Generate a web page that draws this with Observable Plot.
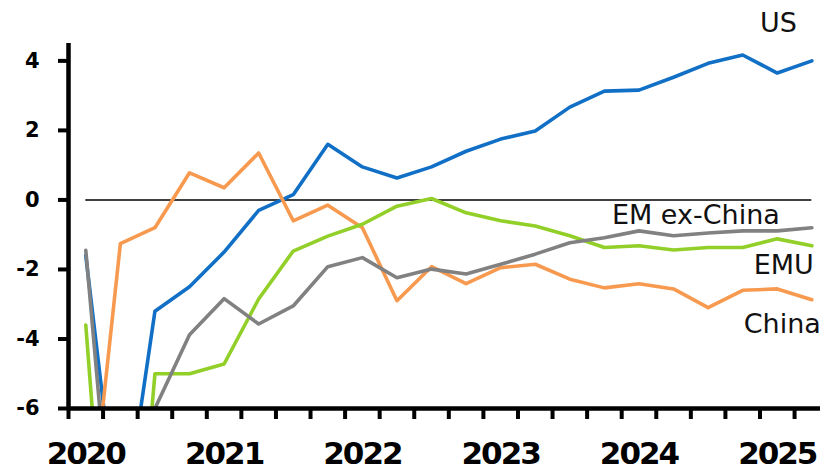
<!DOCTYPE html>
<html>
<head>
<meta charset="utf-8">
<script src="https://cdn.jsdelivr.net/npm/d3@7"></script>
<script src="https://cdn.jsdelivr.net/npm/@observablehq/plot@0.6"></script>
<style>
  html, body { margin: 0; padding: 0; background: #fff; }
  #chart svg { display: block; }
  #chart svg g[aria-label="x-axis tick label"] text { letter-spacing: -2px; }
</style>
</head>
<body>
<div id="chart"></div>
<script>
// Quarterly periods (2020Q1 .. 2025Q2)
const quarters = ["2020Q1","2020Q2","2020Q3","2020Q4","2021Q1","2021Q2","2021Q3","2021Q4",
                  "2022Q1","2022Q2","2022Q3","2022Q4","2023Q1","2023Q2","2023Q3","2023Q4",
                  "2024Q1","2024Q2","2024Q3","2024Q4","2025Q1","2025Q2"];
const years = [2020, 2021, 2022, 2023, 2024, 2025];
const yTicks = [-6, -4, -2, 0, 2, 4];

const seriesNames = ["US", "China", "EMU", "EM ex-China"];
const us    = [-1.6, -10.0, -3.2, -2.5, -1.5, -0.3, 0.15, 1.6, 0.95, 0.63, 0.95, 1.4, 1.75, 1.98, 2.67, 3.13, 3.16, 3.53, 3.93, 4.17, 3.65, 4.0];
const china = [-10.5, -1.26, -0.8, 0.78, 0.35, 1.35, -0.6, -0.15, -0.8, -2.9, -1.92, -2.41, -1.95, -1.85, -2.28, -2.53, -2.41, -2.56, -3.1, -2.6, -2.56, -2.87];
const emu   = [-3.6, -16.5, -5.0, -5.0, -4.72, -2.85, -1.47, -1.04, -0.7, -0.18, 0.04, -0.37, -0.6, -0.75, -1.03, -1.37, -1.32, -1.44, -1.37, -1.37, -1.12, -1.32];
const emx   = [-1.45, -12.7, -6.0, -3.88, -2.84, -3.57, -3.05, -1.92, -1.66, -2.24, -1.99, -2.13, -1.85, -1.56, -1.23, -1.09, -0.89, -1.03, -0.95, -0.89, -0.89, -0.8];
const colors = ["#1170c6", "#f79a50", "#92cf28", "#818181"];

const seriesValues = [us, china, emu, emx];
const n = quarters.length;
const rows = seriesNames.flatMap((name, s) =>
  seriesValues[s].map((v, i) => ({series: name, q: i + 0.5, value: v})));
const lastPoints = seriesNames.map((name, s) =>
  ({series: name, q: n - 0.5, value: seriesValues[s][n - 1]}));

// label placement relative to each series' last point (style only)
const labelStyle = {
  "US":          {dx: -15, dy: -29},
  "EM ex-China": {dx: -32, dy: -4},
  "EMU":         {dx: 2,   dy: 28},
  "China":       {dx: 9,   dy: 33}
};

const yearPos = years.map((y, k) => k * 4 + 0.5);

const chart = Plot.plot({
  width: 824,
  height: 470,
  marginLeft: 68,
  marginRight: 4,
  marginTop: 43,
  marginBottom: 62,
  x: {domain: [0, n - 0.25], axis: null},
  y: {domain: [-6, 4.5], axis: null},
  color: {domain: seriesNames, range: colors},
  style: {fontFamily: "DejaVu Sans, Verdana, sans-serif", background: "#fff", color: "#000"},
  marks: [
    Plot.ruleY([0], {x1: 0.5, x2: n - 0.5, stroke: "#000", strokeWidth: 1.6}),
    Plot.line(rows, {x: "q", y: "value", z: "series", stroke: "series", strokeWidth: 3.6, clip: true}),
    Plot.ruleX([0], {y1: -6, y2: 4.5, stroke: "#000", strokeWidth: 4.5}),
    Plot.ruleY([-6], {x1: 0, x2: n - 0.25, stroke: "#000", strokeWidth: 4.5}),
    Plot.axisY(yTicks, {label: null, tickSize: 10, tickPadding: 19, strokeWidth: 4, fontSize: 21,
                        fontWeight: "bold", tickFormat: d => String(d)}),
    Plot.axisX(d3.range(n), {label: null, tickSize: 11, strokeWidth: 4, tickFormat: () => ""}),
    Plot.axisX(yearPos, {label: null, tickSize: 0, tickPadding: 33, fontSize: 31, fontWeight: "bold",
                         tickFormat: (d, i) => String(years[i])}),
    ...Object.entries(labelStyle).map(([name, s]) =>
      Plot.text(lastPoints.filter(p => p.series === name), {
        x: "q", y: "value", text: "series", textAnchor: "end", lineAnchor: "bottom",
        dx: s.dx, dy: s.dy, fontSize: 27, fill: "#111"
      }))
  ]
});
document.getElementById("chart").append(chart);
</script>
</body>
</html>
